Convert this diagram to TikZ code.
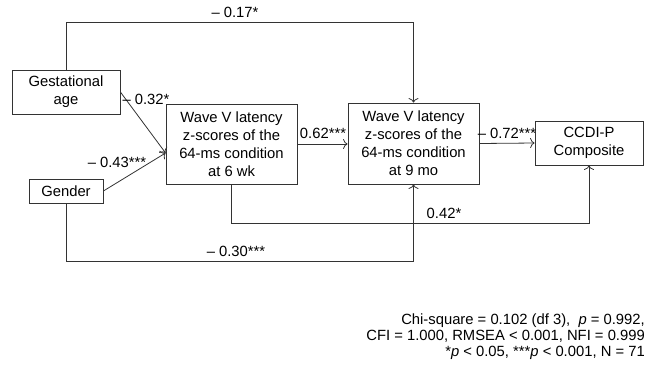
\documentclass[tikz,border=0pt]{standalone}
\usepackage{fontspec}
\setmainfont{Liberation Sans}
\usetikzlibrary{arrows, arrows.meta, positioning}

\begin{document}
\begin{tikzpicture}[x=1pt, y=-1pt, font=\fontsize{14.8}{18}\selectfont,
    box/.style={draw=black!80, line width=0.8pt, align=center, inner sep=0pt},
    link/.style={draw=black!80, line width=0.8pt, -{To[length=4.5pt, width=10pt]}},
    lbl/.style={inner sep=0pt}]
    \useasboundingbox (0,0) rectangle (646,368);
    % variables
    \node[box, minimum width=108pt, minimum height=44pt] (gest) at (66,92) {Gestational\\age};
    \node[box, minimum width=74pt, minimum height=24pt] (gender) at (66,191) {Gender};
    \node[box, minimum width=131pt, minimum height=80pt] (wk6) at (231.5,144) {Wave V latency\\z-scores of the\\64-ms condition\\at 6 wk};
    \node[box, minimum width=131pt, minimum height=81pt] (mo9) at (413.5,143.5) {Wave V latency\\z-scores of the\\64-ms condition\\at 9 mo};
    \node[box, minimum width=108pt, minimum height=44pt] (ccdi) at (589,143) {CCDI-P\\Composite};
    \coordinate (wk6in) at ([yshift=-9pt]wk6.west);

    % paths
    \draw[link] (gest.north) -- ++(0,-47) -| (mo9.north);
    \draw[link] (gender.south) -- ++(0,58) -| (mo9.south);
    \draw[link] (wk6.south) -- ++(0,39) -| (ccdi.south);
    \draw[link] (gest.east) -- (wk6in);
    \draw[link] (gender.east) -- (wk6in);
    \draw[link] (wk6.east) -- (wk6.east -| mo9.west);
    \draw[link] (mo9.east) -- (ccdi.west);

    % coefficients
    \node[lbl] (c17) at (235,12) {-- 0.17*};
    \node[lbl] (c32) at (146,99) {-- 0.32*};
    \node[lbl] (c43) at (117,162) {-- 0.43***};
    \node[lbl] (c62) at (323,133) {0.62***};
    \node[lbl] (c72) at (507,133) {-- 0.72***};
    \node[lbl] (c42) at (444,213) {0.42*};
    \node[lbl] (c30) at (236,251) {-- 0.30***};

    % fit
    \node[lbl, anchor=north east, align=right, font=\fontsize{14.8}{15.6}\selectfont] (fit) at (645,314)
        {Chi-square = 0.102 (df 3), \ \textit{p} = 0.992,\\
         CFI = 1.000, RMSEA < 0.001, NFI = 0.999\\
         *\textit{p} < 0.05, ***\textit{p} < 0.001, N = 71};
\end{tikzpicture}
\end{document}
